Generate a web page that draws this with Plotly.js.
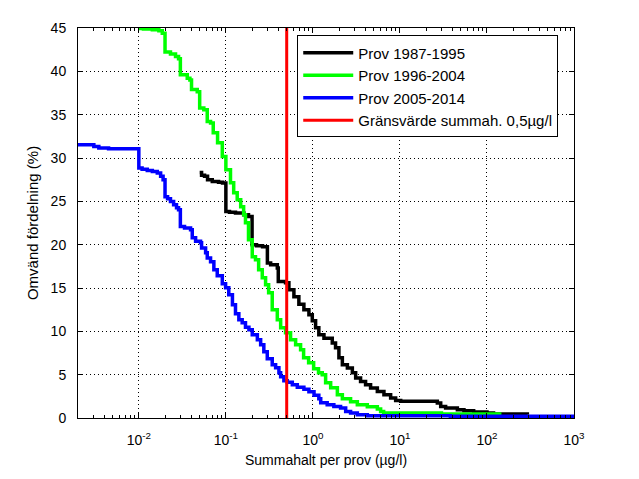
<!DOCTYPE html>
<html>
<head>
<meta charset="utf-8">
<script src="https://cdn.plot.ly/plotly-3.0.1.min.js"></script>
<style>html,body{margin:0;padding:0;background:#fff;}#chart{width:639px;height:479px;}</style>
</head>
<body>
<div id="chart"></div>
<script>
// Series names
const seriesNames = ["Prov 1987-1995", "Prov 1996-2004", "Prov 2005-2014", "Gränsvärde summah. 0,5µg/l"];

// Prov 1987-1995 (black)
const blackX = [0.05, 0.0526, 0.0569, 0.0616, 0.0698, 0.0824, 0.0916, 0.1, 0.110, 0.129, 0.161, 0.182, 0.2, 0.225, 0.264, 0.3, 0.327, 0.39, 0.4, 0.485, 0.53, 0.605, 0.69, 0.788, 0.9, 0.984, 1.074, 1.17, 1.34, 1.67, 1.82, 1.99, 2.18, 2.49, 2.84, 3.10, 3.53, 4.03, 4.60, 5.5, 6.55, 7.82, 8.93, 10.2, 24.4, 26.9, 29.4, 33.5, 45.7, 54.4, 70.3, 100, 119, 291];
const blackY = [28.34, 28.01, 27.88, 27.5, 27.3, 27.21, 27.12, 23.84, 23.75, 23.65, 23.46, 23.26, 20.0, 19.88, 19.77, 17.88, 17.69, 17.31, 15.76, 15.61, 14.8, 14.0, 13.13, 12.5, 11.92, 11.23, 10.42, 9.61, 9.21, 8.65, 8.11, 6.96, 6.15, 5.77, 5.23, 4.62, 4.22, 3.84, 3.46, 3.07, 2.69, 2.31, 2.03, 1.94, 1.92, 1.73, 1.34, 1.15, 0.96, 0.84, 0.69, 0.58, 0.46, 0.38];

// Prov 1996-2004 (green)
const greenX = [0.01, 0.0113, 0.0143, 0.017, 0.0186, 0.02, 0.0231, 0.0264, 0.0286, 0.03, 0.036, 0.0386, 0.0403, 0.0469, 0.05, 0.0558, 0.0611, 0.0667, 0.0716, 0.0803, 0.091, 0.1, 0.113, 0.123, 0.135, 0.148, 0.160, 0.168, 0.182, 0.201, 0.219, 0.238, 0.262, 0.286, 0.31, 0.341, 0.39, 0.426, 0.485, 0.554, 0.633, 0.722, 0.782, 0.893, 1.02, 1.16, 1.28, 1.40, 1.6, 1.91, 2.18, 2.71, 3.24, 4.22, 5.5, 6.0, 6.5, 30, 140];
const greenY = [44.95, 44.88, 44.8, 44.69, 44.4, 42.23, 42.0, 41.7, 41.45, 39.6, 39.2, 39.0, 37.9, 37.65, 35.77, 35.57, 34.22, 34.04, 32.9, 31.76, 30.18, 28.65, 27.15, 26.0, 25.19, 24.38, 23.46, 22.53, 20.57, 18.61, 18.27, 17.11, 16.19, 15.38, 14.46, 12.5, 11.34, 10.42, 9.84, 9.03, 8.46, 7.88, 6.96, 6.38, 5.69, 5.23, 5.0, 4.07, 3.5, 2.69, 2.23, 1.88, 1.53, 1.30, 1.04, 0.76, 0.58, 0.46, 0.2];

// Prov 2005-2014 (blue)
const blueX = [0.002, 0.00304, 0.00347, 0.00449, 0.01, 0.0109, 0.0125, 0.0143, 0.0163, 0.0178, 0.019, 0.02, 0.0214, 0.0231, 0.0251, 0.0271, 0.0286, 0.03, 0.0335, 0.0393, 0.0411, 0.0449, 0.0512, 0.0526, 0.0585, 0.0611, 0.0667, 0.0728, 0.0796, 0.091, 0.0993, 0.108, 0.119, 0.129, 0.141, 0.154, 0.168, 0.184, 0.201, 0.23, 0.251, 0.273, 0.299, 0.341, 0.373, 0.407, 0.426, 0.464, 0.508, 0.58, 0.662, 0.788, 0.9, 1.03, 1.17, 1.23, 1.46, 1.74, 2.08, 2.38, 2.71, 3.24, 4.22, 38, 1000];
const blueY = [31.53, 31.34, 31.15, 31.07, 28.85, 28.71, 28.57, 28.45, 28.27, 27.88, 27.5, 25.53, 25.3, 24.99, 24.61, 24.26, 24.03, 22.1, 21.92, 21.73, 20.8, 20.38, 20.23, 19.62, 19.07, 18.46, 18.03, 17.11, 16.42, 15.5, 15.03, 14.23, 13.07, 12.03, 11.34, 11.0, 10.48, 10.19, 9.61, 9.03, 8.46, 7.65, 6.84, 6.15, 5.8, 5.23, 4.77, 4.3, 4.13, 3.84, 3.55, 3.32, 3.03, 2.63, 2.23, 1.77, 1.53, 1.34, 1.15, 0.76, 0.58, 0.38, 0.27, 0.21, 0.17];

// Limit value (red vertical line)
const limitX = [0.5, 0.5];
const limitY = [0, 45];

// Axis ticks
const xTickVals = [0.01, 0.1, 1, 10, 100, 1000];
const xTickText = ["10<sup>-2</sup>", "10<sup>-1</sup>", "10<sup>0</sup>", "10<sup>1</sup>", "10<sup>2</sup>", "10<sup>3</sup>"];
const xRange = [0.002, 1000];
const yTickVals = [0, 5, 10, 15, 20, 25, 30, 35, 40, 45];
const yRange = [0, 45];

const xTitle = "Summahalt per prov (µg/l)";
const yTitle = "Omvänd fördelning (%)";

const FONT = "'Liberation Sans', Arial, Helvetica, sans-serif";

const traces = [
  {x: blackX, y: blackY, name: seriesNames[0], mode: "lines", line: {color: "#000000", width: 3.5, shape: "hv"}},
  {x: greenX, y: greenY, name: seriesNames[1], mode: "lines", line: {color: "#00ff00", width: 3.5, shape: "hv"}},
  {x: blueX, y: blueY, name: seriesNames[2], mode: "lines", line: {color: "#0000ff", width: 3.5, shape: "hv"}},
  {x: limitX, y: limitY, name: seriesNames[3], mode: "lines", line: {color: "#ff0000", width: 3}}
];

const axisCommon = {
  showline: true, linecolor: "#000", linewidth: 1, mirror: "allticks",
  ticks: "inside", ticklen: 5, tickcolor: "#000", tickwidth: 1,
  showgrid: true, gridcolor: "#000", gridwidth: 1, griddash: "1px,3px",
  zeroline: false, tickfont: {family: FONT, size: 14, color: "#000"}
};

const layout = {
  width: 639, height: 479,
  margin: {l: 78, r: 65, t: 28, b: 61},
  paper_bgcolor: "#fff", plot_bgcolor: "#fff",
  font: {family: FONT, size: 14, color: "#000"},
  showlegend: true,
  legend: {
    x: 0.442, y: 0.981, xanchor: "left", yanchor: "top",
    bgcolor: "#fff", bordercolor: "#000", borderwidth: 1,
    itemwidth: 50,
    font: {family: FONT, size: 15, color: "#000"}, tracegroupgap: 0
  },
  xaxis: Object.assign({}, axisCommon, {
    type: "log", range: [Math.log10(xRange[0]), Math.log10(xRange[1])],
    tickmode: "array", tickvals: xTickVals, ticktext: xTickText,
    ticklabelstandoff: 9,
    minor: {ticks: "inside", ticklen: 3, tickcolor: "#000", dtick: "D1", showgrid: false},
    title: {text: xTitle, font: {family: FONT, size: 14, color: "#000"}, standoff: 8}
  }),
  yaxis: Object.assign({}, axisCommon, {
    range: yRange, tickmode: "array", tickvals: yTickVals,
    ticklabelstandoff: 8,
    title: {text: yTitle, font: {family: FONT, size: 15, color: "#000"}, standoff: 8}
  })
};

Plotly.newPlot("chart", traces, layout, {staticPlot: true, displayModeBar: false});
</script>
</body>
</html>
